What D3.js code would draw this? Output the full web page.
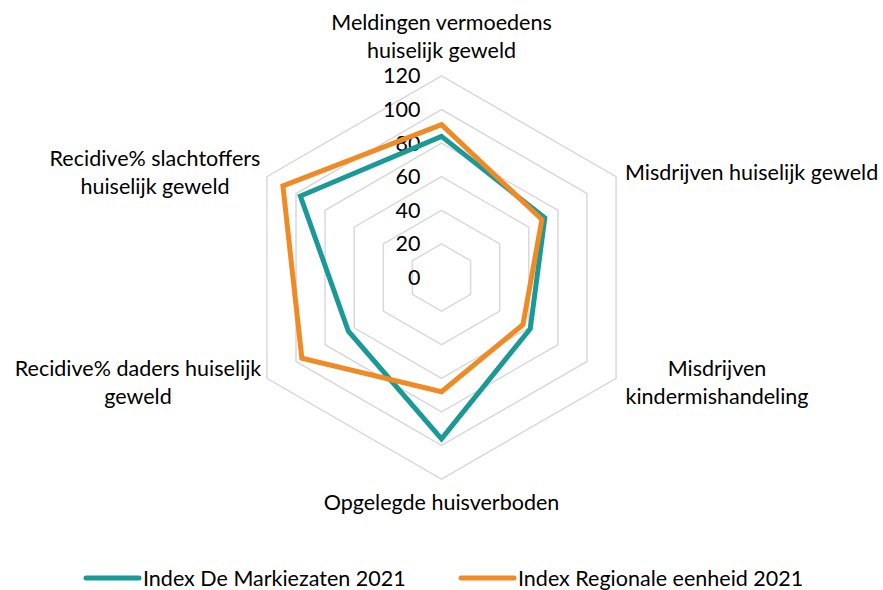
<!DOCTYPE html>
<html>
<head>
<meta charset="utf-8">
<script src="https://cdn.jsdelivr.net/npm/d3@7"></script>
<style>
  body { margin: 0; background: #fff; }
  svg text { font-family: Lato, "Open Sans", sans-serif; fill: #000; }
</style>
</head>
<body>
<svg id="chart"></svg>
<script>
// data
const categories = [
  ["Meldingen vermoedens", "huiselijk geweld"],
  ["Misdrijven huiselijk geweld"],
  ["Misdrijven", "kindermishandeling"],
  ["Opgelegde huisverboden"],
  ["Recidive% daders huiselijk", "geweld"],
  ["Recidive% slachtoffers", "huiselijk geweld"]
]
const seriesNames = ["Index De Markiezaten 2021", "Index Regionale eenheid 2021"]
const markiezaten = [84, 71, 61, 96, 64, 97]
const regionaal = [91, 69, 56, 68, 96, 109]
const tickValues = [0, 20, 40, 60, 80, 100, 120]
const colors = ["#199a97", "#f08a24"]

const width = 883
const height = 590
const cx = 441.5
const cy = 277.5
const radius = 201.6
const fontSize = 21.5

const svg = d3.select("#chart").attr("width", width).attr("height", height)
const g = svg.append("g").attr("transform", `translate(${cx},${cy})`)

const rScale = d3.scaleLinear().domain([0, 120]).range([0, radius])
const angle = d3.scaleLinear().domain([0, categories.length]).range([0, 2 * Math.PI])

// grid hexagons
const gridLine = d3.lineRadial()
  .angle((d, i) => angle(i))
  .radius(d => rScale(d))
  .curve(d3.curveLinearClosed)

g.selectAll(".grid")
  .data(tickValues.filter(t => t > 0))
  .join("path")
  .attr("class", "grid")
  .attr("d", t => gridLine(categories.map(() => t)))
  .attr("fill", "none")
  .attr("stroke", "#d9d9d9")
  .attr("stroke-width", 1.5)

// tick labels
g.selectAll(".tick")
  .data(tickValues)
  .join("text")
  .attr("class", "tick")
  .attr("x", -21)
  .attr("y", t => -rScale(t))
  .attr("dy", "0.35em")
  .attr("text-anchor", "end")
  .attr("font-size", fontSize)
  .text(t => t)

// series
g.selectAll(".series")
  .data([markiezaten, regionaal])
  .join("path")
  .attr("class", "series")
  .attr("d", d => gridLine(d))
  .attr("fill", "none")
  .attr("stroke", (d, i) => colors[i])
  .attr("stroke-width", 5)
  .attr("stroke-linejoin", "miter")

// category labels, positions relative to the centre
const labelPos = [
  {x: 0, y: -255.5, anchor: "middle"},
  {x: 183.5, y: -105.5, anchor: "start"},
  {x: 275.5, y: 90.5, anchor: "middle"},
  {x: 0, y: 224.5, anchor: "middle"},
  {x: -303.5, y: 90.5, anchor: "middle"},
  {x: -286.5, y: -119.5, anchor: "middle"}
]
const lineHeight = 28

categories.forEach((lines, i) => {
  const p = labelPos[i]
  const t = g.append("text")
    .attr("text-anchor", p.anchor)
    .attr("font-size", fontSize)
  lines.forEach((line, j) => {
    t.append("tspan")
      .attr("x", p.x)
      .attr("y", p.y + j * lineHeight)
      .attr("dy", "0.35em")
      .text(line)
  })
})

// legend
const legend = svg.append("g")
const legendItems = [
  {x: 86, name: seriesNames[0], color: colors[0]},
  {x: 461, name: seriesNames[1], color: colors[1]}
]
legendItems.forEach(item => {
  legend.append("line")
    .attr("x1", item.x).attr("x2", item.x + 53)
    .attr("y1", 578).attr("y2", 578)
    .attr("stroke", item.color)
    .attr("stroke-width", 5)
    .attr("stroke-linecap", "round")
  legend.append("text")
    .attr("x", item.x + 57)
    .attr("y", 578)
    .attr("dy", "0.35em")
    .attr("font-size", fontSize)
    .text(item.name)
})
</script>
</body>
</html>
